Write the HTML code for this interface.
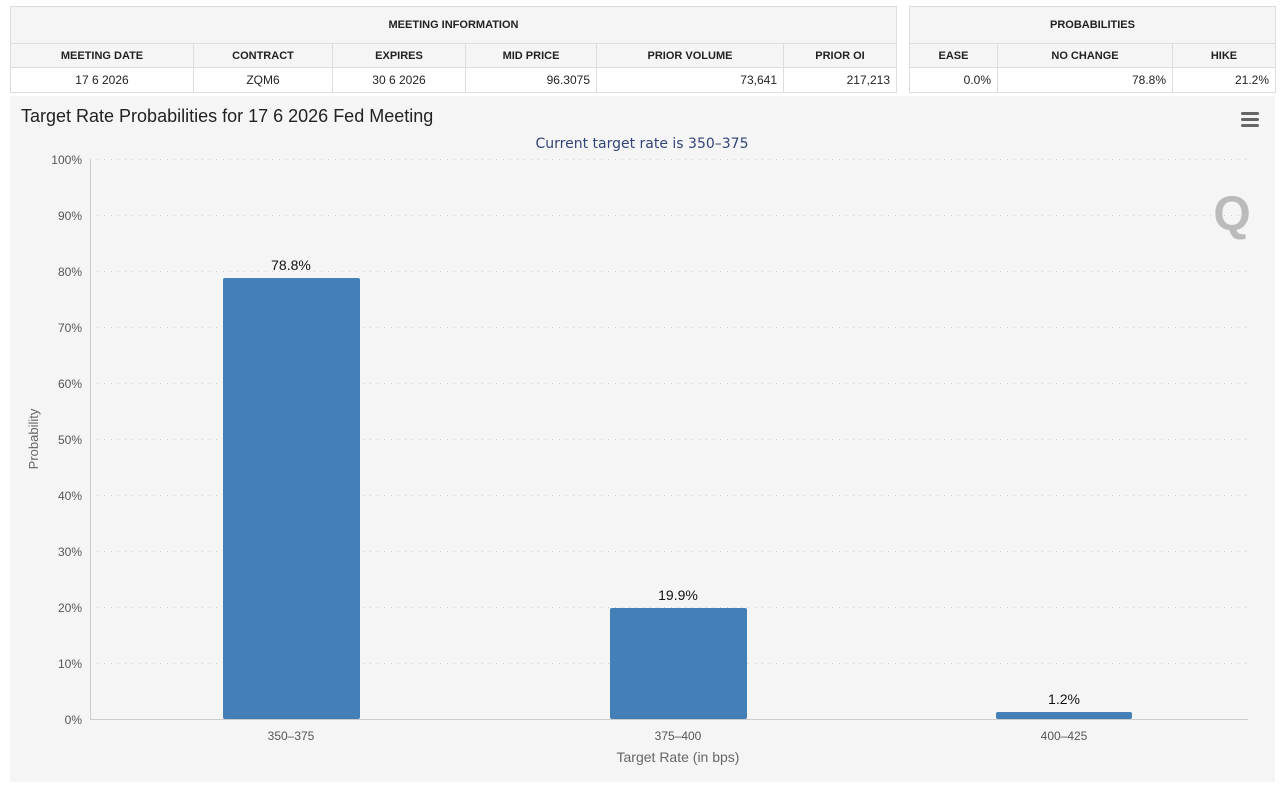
<!DOCTYPE html>
<html><head><style>
body{margin:0;background:#fff;font-family:"Liberation Sans",Arial,sans-serif;width:1280px;height:788px;overflow:hidden;position:relative}
table{position:absolute;border-collapse:collapse;font-size:11px;color:#222;top:6px}
td{border:1px solid #ddd;padding:0 6px;height:23px}
tr.h td{background:#f5f5f5;font-weight:bold;text-align:center}
tr.t td{height:36px}
tr.d td{text-align:right;background:#fff;height:24px;font-size:12px}
</style></head><body>
<table style="left:10px;width:887px">
<tr class="h t"><td colspan="6">MEETING INFORMATION</td></tr>
<tr class="h"><td style="width:170px">MEETING DATE</td><td style="width:126px">CONTRACT</td><td style="width:120px">EXPIRES</td><td style="width:118px">MID PRICE</td><td style="width:174px">PRIOR VOLUME</td><td>PRIOR OI</td></tr>
<tr class="d"><td style="text-align:center">17 6 2026</td><td style="text-align:center">ZQM6</td><td style="text-align:center">30 6 2026</td><td>96.3075</td><td>73,641</td><td>217,213</td></tr>
</table>
<table style="left:909px;width:367px">
<tr class="h t"><td colspan="3">PROBABILITIES</td></tr>
<tr class="h"><td style="width:75px">EASE</td><td style="width:162px">NO CHANGE</td><td>HIKE</td></tr>
<tr class="d"><td>0.0%</td><td>78.8%</td><td>21.2%</td></tr>
</table>
<svg style="position:absolute;left:0;top:0" width="1280" height="788" font-family="Liberation Sans, Arial, sans-serif">
<rect x="10" y="96" width="1265" height="686" fill="#f5f5f5"/>
<text x="21" y="122" font-size="18" fill="#222">Target Rate Probabilities for 17 6 2026 Fed Meeting</text>
<text x="642" y="148" font-size="14" fill="#334477" text-anchor="middle" font-family="DejaVu Sans, sans-serif">Current target rate is 350–375</text>
<g fill="#666"><rect x="1241" y="112" width="18" height="3" rx="1.5"/><rect x="1241" y="118" width="18" height="3" rx="1.5"/><rect x="1241" y="124" width="18" height="3" rx="1.5"/></g>
<text x="1232" y="230" font-size="48" font-weight="bold" fill="#bbb" text-anchor="middle">Q</text>
<g stroke="#ccc" stroke-dasharray="1,6" stroke-width="1">
<line x1="90" x2="1248" y1="159.5" y2="159.5"/><line x1="90" x2="1248" y1="215.5" y2="215.5"/><line x1="90" x2="1248" y1="271.5" y2="271.5"/><line x1="90" x2="1248" y1="327.5" y2="327.5"/><line x1="90" x2="1248" y1="383.5" y2="383.5"/><line x1="90" x2="1248" y1="439.5" y2="439.5"/><line x1="90" x2="1248" y1="495.5" y2="495.5"/><line x1="90" x2="1248" y1="551.5" y2="551.5"/><line x1="90" x2="1248" y1="607.5" y2="607.5"/><line x1="90" x2="1248" y1="663.5" y2="663.5"/>
</g>
<line x1="90.5" x2="90.5" y1="159" y2="719" stroke="#ccc"/>
<line x1="90" x2="1248" y1="719.5" y2="719.5" stroke="#ccc"/>
<g font-size="12" fill="#555" text-anchor="end">
<text x="82" y="164">100%</text><text x="82" y="220">90%</text><text x="82" y="276">80%</text><text x="82" y="332">70%</text><text x="82" y="388">60%</text><text x="82" y="444">50%</text><text x="82" y="500">40%</text><text x="82" y="556">30%</text><text x="82" y="612">20%</text><text x="82" y="668">10%</text><text x="82" y="724">0%</text>
</g>
<text transform="translate(38,439) rotate(-90)" font-size="13" fill="#666" text-anchor="middle">Probability</text>
<g fill="#4480b8">
<rect x="223" y="278" width="137" height="441" rx="2"/>
<rect x="610" y="608" width="137" height="111" rx="2"/>
<rect x="996" y="712" width="136" height="7" rx="2"/>
</g>
<g font-size="14" fill="#111" text-anchor="middle">
<text x="291" y="270">78.8%</text><text x="678" y="600">19.9%</text><text x="1064" y="704">1.2%</text>
</g>
<g font-size="12" fill="#555" text-anchor="middle">
<text x="291" y="740">350–375</text><text x="678" y="740">375–400</text><text x="1064" y="740">400–425</text>
</g>
<text x="678" y="762" font-size="14" fill="#666" text-anchor="middle">Target Rate (in bps)</text>
</svg>
</body></html>
